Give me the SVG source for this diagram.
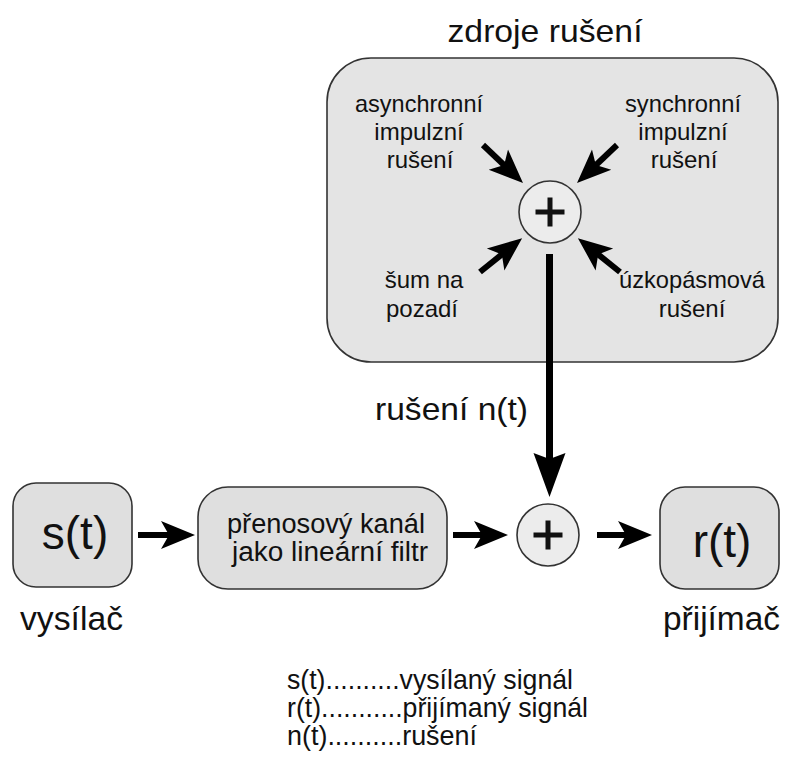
<svg xmlns="http://www.w3.org/2000/svg" width="787" height="764" viewBox="0 0 787 764">
<style>
  text { font-family: "Liberation Sans", Arial, sans-serif; fill: #111; }
  .box { fill: #dfdfdf; stroke: #333; stroke-width: 1.6; }
  .big { fill: #e4e4e4; stroke: #333; stroke-width: 1.6; }
  .sum { fill: #ececec; stroke: #333; stroke-width: 1.6; }
  .plus { stroke: #111; stroke-width: 5; fill: none; }
  .lbl { font-size: 24px; text-anchor: middle; }
  .conn { stroke: #000; stroke-width: 6; fill: none; }
  .connv { stroke: #000; stroke-width: 7; fill: none; }
  .leg { font-size: 27.5px; }
</style>
<defs>
  <marker id="ah" markerUnits="userSpaceOnUse" markerWidth="34" markerHeight="28" viewBox="0 -14 34 28" refX="10" refY="0" orient="auto" overflow="visible">
    <path d="M0,-14 L34,0 L0,14 L8,0 Z" fill="#000"/>
  </marker>
  <marker id="ahv" markerUnits="userSpaceOnUse" markerWidth="44" markerHeight="32" viewBox="0 -16 44 32" refX="8" refY="0" orient="auto" overflow="visible">
    <path d="M0,-16 L44,0 L0,16 L6,0 Z" fill="#000"/>
  </marker>
</defs>

<g id="sources">
  <text x="545" y="42" font-size="32" text-anchor="middle" textLength="195" lengthAdjust="spacingAndGlyphs">zdroje rušení</text>
  <rect class="big" x="327" y="58" width="451" height="304" rx="44" ry="44"/>
</g>

<g id="label-async">
  <text class="lbl" x="419" y="112" textLength="128" lengthAdjust="spacingAndGlyphs">asynchronní</text>
  <text class="lbl" x="419" y="140">impulzní</text>
  <text class="lbl" x="420" y="168">rušení</text>
</g>
<g id="label-sync">
  <text class="lbl" x="683" y="112" textLength="116" lengthAdjust="spacingAndGlyphs">synchronní</text>
  <text class="lbl" x="683" y="140">impulzní</text>
  <text class="lbl" x="684" y="168">rušení</text>
</g>
<g id="label-noise">
  <text class="lbl" x="424" y="288">šum na</text>
  <text class="lbl" x="422" y="317">pozadí</text>
</g>
<g id="label-narrow">
  <text class="lbl" x="692" y="288" textLength="146" lengthAdjust="spacingAndGlyphs">úzkopásmová</text>
  <text class="lbl" x="692" y="317">rušení</text>
</g>

<g id="sum-top">
  <circle class="sum" cx="550" cy="212" r="31"/>
  <path class="plus" d="M535.5,212 H564.5 M550,197.5 V226.5"/>
</g>

<g id="sum-bottom">
  <circle class="sum" cx="548" cy="535" r="31"/>
  <path class="plus" d="M533.5,535 H562.5 M548,520.5 V549.5"/>
</g>

<g id="transmitter">
  <rect class="box" x="13" y="483" width="119" height="104" rx="23" ry="23"/>
  <text x="75" y="549" font-size="46" text-anchor="middle">s(t)</text>
  <text x="20" y="630" font-size="33.5" textLength="103" lengthAdjust="spacingAndGlyphs">vysílač</text>
</g>

<g id="channel">
  <rect class="box" x="198" y="487" width="249" height="102" rx="30" ry="30"/>
  <text x="227" y="533" font-size="27" textLength="198" lengthAdjust="spacingAndGlyphs">přenosový kanál</text>
  <text x="232" y="561" font-size="27" textLength="196" lengthAdjust="spacingAndGlyphs">jako lineární filtr</text>
</g>

<g id="receiver">
  <rect class="box" x="660" y="487" width="119" height="102" rx="25" ry="25"/>
  <text x="722" y="557" font-size="46" text-anchor="middle">r(t)</text>
  <text x="663" y="630" font-size="33.5" textLength="117" lengthAdjust="spacingAndGlyphs">přijímač</text>
</g>

<g id="noise-label">
  <text x="375" y="420" font-size="32" textLength="153" lengthAdjust="spacingAndGlyphs">rušení n(t)</text>
</g>

<g id="connectors">
  <line class="conn" x1="483" y1="145" x2="505.6" y2="166.5" marker-end="url(#ah)"/>
  <line class="conn" x1="617" y1="145" x2="594.4" y2="166.5" marker-end="url(#ah)"/>
  <line class="conn" x1="480" y1="272" x2="503.4" y2="253.2" marker-end="url(#ah)"/>
  <line class="conn" x1="620" y1="272" x2="596.6" y2="253.2" marker-end="url(#ah)"/>
  <line class="connv" x1="549.5" y1="254" x2="549.5" y2="461" marker-end="url(#ahv)"/>
  <line class="conn" x1="138" y1="535" x2="171" y2="535" marker-end="url(#ah)"/>
  <line class="conn" x1="453" y1="535" x2="484" y2="535" marker-end="url(#ah)"/>
  <line class="conn" x1="597" y1="535" x2="628" y2="535" marker-end="url(#ah)"/>
</g>

<g id="legend">
  <text class="leg" x="287" y="689" textLength="286" lengthAdjust="spacingAndGlyphs">s(t)..........vysílaný signál</text>
  <text class="leg" x="287" y="717" textLength="301" lengthAdjust="spacingAndGlyphs">r(t)...........přijímaný signál</text>
  <text class="leg" x="287" y="745" textLength="190" lengthAdjust="spacingAndGlyphs">n(t)..........rušení</text>
</g>
</svg>
